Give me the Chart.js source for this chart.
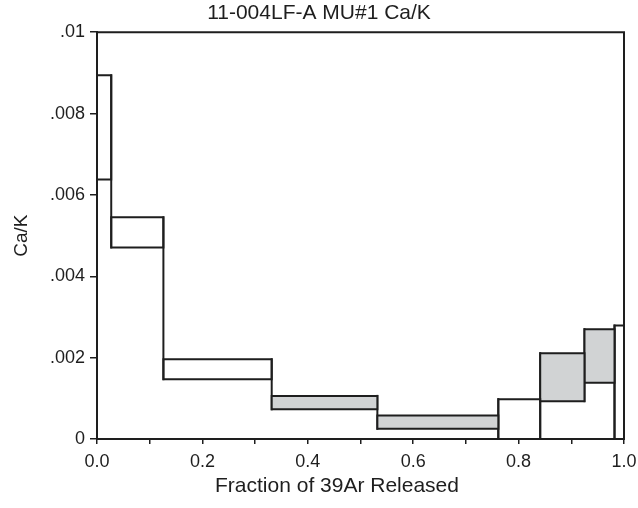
<!DOCTYPE html>
<html><head><meta charset="utf-8">
<script src="https://cdn.jsdelivr.net/npm/chart.js@4.4.0/dist/chart.umd.min.js"></script>
<style>html,body{margin:0;padding:0;background:#fff}#wrap{width:638px;height:508px}</style>
</head><body><div id="wrap"><canvas id="c" width="638" height="508"></canvas></div>
<script>
const chartTitle = '11-004LF-A MU#1 Ca/K';
const xAxisTitle = 'Fraction of 39Ar Released';
const yAxisTitle = 'Ca/K';
const stepEdges = [0, 0.027, 0.126, 0.3315, 0.532, 0.7615, 0.841, 0.925, 0.982, 1.0];
const caKHigh = [0.00894, 0.00545, 0.00196, 0.00106, 0.00058, 0.00098, 0.00211, 0.00270, 0.00279];
const caKLow  = [0.00638, 0.00471, 0.00147, 0.00073, 0.00025, 0.0, 0.00093, 0.00138, 0.0];
const stepShaded = [false, false, false, true, true, false, true, true, false];
const xTickValues = [0, 0.1, 0.2, 0.3, 0.4, 0.5, 0.6, 0.7, 0.8, 0.9, 1.0];
const xTickLabels = ['0.0', '', '0.2', '', '0.4', '', '0.6', '', '0.8', '', '1.0'];
const yTickValues = [0, 0.002, 0.004, 0.006, 0.008, 0.01];
const yTickLabels = ['0', '.002', '.004', '.006', '.008', '.01'];

const FONT = '"Liberation Sans", Arial, Helvetica, sans-serif';
const INK = '#1e1e1e';
const SHADE = '#d1d3d4';

const lineStyle = {
  borderColor: INK, borderWidth: 2, borderJoinStyle: 'miter', borderCapStyle: 'square',
  pointRadius: 0, tension: 0, clip: false
};

// step boxes
const datasets = caKHigh.map((hi, i) => {
  const x0 = stepEdges[i], x1 = stepEdges[i + 1], lo = caKLow[i];
  return Object.assign({
    data: [{x: x0, y: lo}, {x: x1, y: lo}, {x: x1, y: hi}, {x: x0, y: hi}, {x: x0, y: lo}],
    backgroundColor: SHADE,
    fill: stepShaded[i] ? 'shape' : false
  }, lineStyle);
});
// vertical risers joining neighbouring steps
for (let i = 0; i < caKHigh.length - 1; i++) {
  const e = stepEdges[i + 1];
  const lo = Math.min(caKLow[i], caKLow[i + 1]);
  const hi = Math.max(caKHigh[i], caKHigh[i + 1]);
  datasets.push(Object.assign({data: [{x: e, y: lo}, {x: e, y: hi}], fill: false}, lineStyle));
}

const framePlugin = {
  id: 'frame',
  afterDraw(chart) {
    const {ctx, chartArea: a} = chart;
    ctx.save();
    ctx.strokeStyle = INK;
    ctx.lineWidth = 2;
    ctx.beginPath();
    ctx.moveTo(a.left, a.top);
    ctx.lineTo(a.right, a.top);
    ctx.lineTo(a.right, a.bottom);
    ctx.stroke();
    ctx.fillStyle = INK;
    ctx.font = '21px ' + FONT;
    ctx.textAlign = 'center';
    ctx.textBaseline = 'middle';
    ctx.fillText(xAxisTitle, 337, 486);
    ctx.restore();
  }
};

new Chart(document.getElementById('c'), {
  type: 'line',
  data: {datasets},
  plugins: [framePlugin],
  options: {
    responsive: false,
    animation: false,
    layout: {padding: 0},
    plugins: {
      legend: {display: false},
      tooltip: {enabled: false},
      title: {
        display: true, text: chartTitle, color: INK,
        font: {family: FONT, size: 21, weight: 'normal'},
        padding: {top: 1, bottom: 6}
      }
    },
    scales: {
      x: {
        type: 'linear', min: 0, max: 1,
        afterBuildTicks: s => { s.ticks = xTickValues.map(v => ({value: v})); },
        afterFit: s => { s.height = 69; s.paddingRight = 14; s.paddingLeft = 0; },
        ticks: {
          callback: (v, i) => xTickLabels[i],
          autoSkip: false, maxRotation: 0, color: INK, padding: 7,
          font: {family: FONT, size: 18}
        },
        grid: {drawOnChartArea: false, drawTicks: true, tickLength: 5, color: INK, lineWidth: 1.5},
        border: {display: true, color: INK, width: 2}
      },
      y: {
        type: 'linear', min: 0, max: 0.01,
        afterBuildTicks: s => { s.ticks = yTickValues.map(v => ({value: v})); },
        afterFit: s => { s.width = 97; },
        ticks: {
          callback: (v, i) => yTickLabels[i],
          color: INK, padding: 5,
          font: {family: FONT, size: 18}
        },
        grid: {drawOnChartArea: false, drawTicks: true, tickLength: 7, color: INK, lineWidth: 1.5},
        border: {display: true, color: INK, width: 2},
        title: {
          display: true, text: yAxisTitle, color: INK,
          font: {family: FONT, size: 19},
          padding: {top: 10, bottom: 0}
        }
      }
    }
  }
});
</script>
</body></html>
